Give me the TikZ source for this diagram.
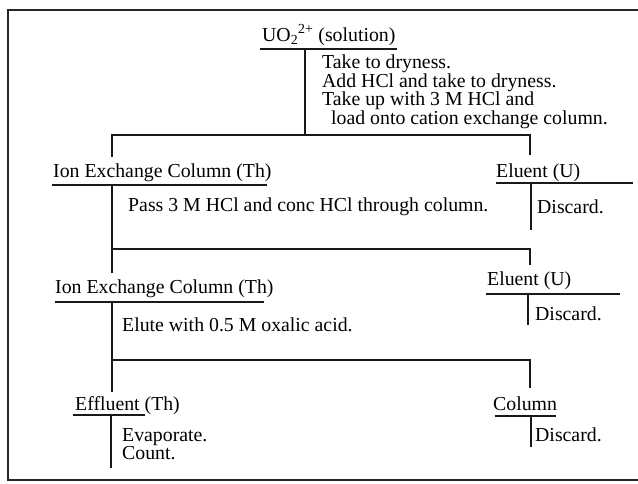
\documentclass[tikz,border=0pt]{standalone}
\usepackage{fontspec}
\setmainfont{Liberation Serif}
\usetikzlibrary{calc}

\begin{document}
\begin{tikzpicture}[
  x=1pt, y=-1pt,
  font=\fontsize{19.8}{18.4}\selectfont,
  head/.style={inner sep=0pt, anchor=base west},
  note/.style={inner sep=0pt, anchor=north west, align=left},
  bar/.style={line width=1.3pt, draw=black!90},
  tie/.style={line width=1.3pt, draw=black!90},
  frame/.style={line width=1.6pt, draw=black!85}
]
\useasboundingbox (0,0) rectangle (638,483);

% ---------------- outer frame ----------------
\coordinate (fTR) at (650,10);
\coordinate (fTL) at (8,10);
\coordinate (fBL) at (8,480);
\coordinate (fBR) at (650,480);
\begin{scope}
  \clip (0,0) rectangle (638,483);
  \draw[frame] (fTR) -- (fTL) -- (fBL) -- (fBR);
\end{scope}

% ---------------- starting solution ----------------
\node[head] (src) at (262,41) {UO\textsubscript{2}\textsuperscript{2+} (solution)};
\coordinate (srcL) at (260,49);
\coordinate (srcR) at (397,49);
\coordinate (srcT) at (305,49);
\draw[bar] (srcL) -- (srcR);
\node[note] (prep) at (322,55)
  {Take to dryness.\\
   Add HCl and take to dryness.\\
   Take up with 3 M HCl and\\
   \hspace{9pt}load onto cation exchange column.};

% first split
\coordinate (s1) at (305,135);
\coordinate (s1L) at (112,135);
\coordinate (s1R) at (530,135);
\draw[tie] (srcT) -- (s1);
\draw[tie] (112,157) -- (s1L) -- (s1R) -- (530,155);

% ---------------- first column pass ----------------
\node[head] (ix1) at (53,177) {Ion Exchange Column (Th)};
\coordinate (ix1L) at (52,185);
\coordinate (ix1R) at (267,185);
\coordinate (ix1T) at (112,185);
\draw[bar] (ix1L) -- (ix1R);
\node[head] (pass) at (128,211) {Pass 3 M HCl and conc HCl through column.};

\node[head] (el1) at (496,177) {Eluent (U)};
\coordinate (el1L) at (496,183);
\coordinate (el1R) at (633,183);
\coordinate (el1T) at (531,183);
\draw[bar] (el1L) -- (el1R);
\draw[tie] (el1T) -- ++(0,47);
\node[head] (dis1) at (537,213) {Discard.};

% second split
\coordinate (s2L) at (112,249);
\coordinate (s2R) at (530,249);
\draw[tie] (ix1T) -- (112,273);
\draw[tie] (s2L) -- (s2R) -- (530,265);

% ---------------- elution ----------------
\node[head] (ix2) at (55,293) {Ion Exchange Column (Th)};
\coordinate (ix2L) at (55,302);
\coordinate (ix2R) at (264,302);
\coordinate (ix2T) at (112,302);
\draw[bar] (ix2L) -- (ix2R);
\node[head] (elute) at (122,331) {Elute with 0.5 M oxalic acid.};

\node[head] (el2) at (487,285) {Eluent (U)};
\coordinate (el2L) at (486,294);
\coordinate (el2R) at (620,294);
\coordinate (el2T) at (528,294);
\draw[bar] (el2L) -- (el2R);
\draw[tie] (el2T) -- ++(0,31);
\node[head] (dis2) at (535,320) {Discard.};

% third split
\coordinate (s3L) at (112,360);
\coordinate (s3R) at (530,360);
\draw[tie] (ix2T) -- (112,392);
\draw[tie] (s3L) -- (s3R) -- (530,388);

% ---------------- products ----------------
\node[head] (eff) at (75,410) {Effluent (Th)};
\coordinate (effL) at (73,415);
\coordinate (effR) at (145,415);
\coordinate (effT) at (111,415);
\draw[bar] (effL) -- (effR);
\draw[tie] (effT) -- ++(0,53);
\node[note] (count) at (122,428) {Evaporate.\\Count.};

\node[head] (col) at (493,410) {Column};
\coordinate (colL) at (495,416);
\coordinate (colR) at (556,416);
\coordinate (colT) at (531,416);
\draw[bar] (colL) -- (colR);
\draw[tie] (colT) -- ++(0,31);
\node[head] (dis3) at (535,441) {Discard.};

\end{tikzpicture}
\end{document}
